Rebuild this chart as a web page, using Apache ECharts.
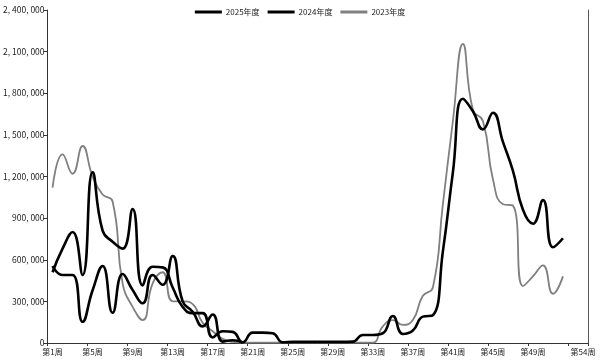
<!DOCTYPE html>
<html>
<head>
<meta charset="utf-8">
<script src="https://cdn.jsdelivr.net/npm/echarts@6/dist/echarts.min.js"></script>
<style>
html,body{margin:0;padding:0;background:#fff;}
#c{width:600px;height:360px;}
</style>
</head>
<body>
<div id="c"></div>
<script>
const weeks = Array.from({length: 54}, (_, i) => '第' + (i + 1) + '周');
const seriesNames = ['2025年度', '2024年度', '2023年度'];

const y2025 = [555000, 490000, 490000, 153000, 380000, 555000, 218000, 497000, 382000, 286000,
  490000, 420000, 627000, 300000, 225000, 120000, 205000, 10000, 20000, 3000];

const y2024 = [510000, 680000, 800000, 490000, 1230000, 810000, 730000, 680000, 965000, 415000,
  550000, 545000, 400000, 260000, 215000, 215000, 40000, 85000, 80000, 5000,
  75000, 75000, 70000, 5000, 8000, 8000, 8000, 8000, 8000, 8000,
  10000, 58000, 58000, 70000, 195000, 65000, 90000, 190000, 200000, 660000,
  1230000, 1760000, 1670000, 1540000, 1660000, 1450000, 1240000, 960000, 860000, 1030000,
  690000, 755000, null, null];

const y2023 = [1120000, 1360000, 1220000, 1420000, 1200000, 1070000, 1020000, 430000, 260000, 165000,
  430000, 510000, 300000, 300000, 280000, 145000, 85000, 30000, 8000, 3000,
  3000, 3000, 3000, 3000, 3000, 3000, 3000, 3000, 3000, 3000,
  3000, 3000, 3000, 120000, 165000, 130000, 165000, 340000, 400000, 1000000,
  1600000, 2155000, 1680000, 1600000, 1180000, 1000000, 990000, 410000, 480000, 560000,
  355000, 480000, null, null];

const yMax = 2400000;
const yStep = 300000;

const chart = echarts.init(document.getElementById('c'), null, {renderer: 'canvas'});
const fontFam = '"Noto Sans CJK SC", "DejaVu Sans", sans-serif';
const axisColor = '#333';

chart.setOption({
  backgroundColor: '#fff',
  animation: false,
  textStyle: {fontFamily: fontFam},
  legend: {
    top: 3,
    left: 'center',
    icon: 'rect',
    itemWidth: 27,
    itemHeight: 3,
    itemGap: 8,
    textStyle: {fontSize: 8, color: '#222', fontFamily: fontFam, padding: [0, 0, 0, -1]},
    data: seriesNames
  },
  grid: {left: 44, right: 12, top: 10, bottom: 17, containLabel: false},
  xAxis: {
    type: 'category',
    data: weeks,
    boundaryGap: true,
    axisLine: {lineStyle: {color: axisColor, width: 1}},
    axisTick: {show: true, interval: 3, length: 3, lineStyle: {color: axisColor}},
    axisLabel: {
      interval: (idx) => idx % 4 === 0 && idx < 50 || idx === 53,
      fontSize: 8,
      color: '#222',
      margin: 5,
      fontFamily: fontFam
    },
    splitLine: {show: false}
  },
  yAxis: [{
    type: 'value',
    min: 0,
    max: yMax,
    interval: yStep,
    axisLine: {show: true, lineStyle: {color: axisColor, width: 1}},
    axisTick: {show: true, length: 4, lineStyle: {color: axisColor}},
    axisLabel: {
      fontSize: 8.5,
      color: '#222',
      margin: 3,
      fontFamily: fontFam,
      formatter: (v) => v.toLocaleString('en-US').replace(/,/g, ', ')
    },
    splitLine: {show: false}
  }, {
    type: 'value',
    position: 'right',
    min: 0,
    max: yMax,
    interval: yStep,
    axisLine: {show: true, lineStyle: {color: '#555', width: 1}},
    axisTick: {show: false},
    axisLabel: {show: false},
    splitLine: {show: false}
  }],
  series: [{
    name: seriesNames[0],
    type: 'line',
    data: y2025,
    smooth: 0.5,
    symbol: 'none',
    lineStyle: {color: '#000', width: 2.6},
    itemStyle: {color: '#000'},
    z: 4
  }, {
    name: seriesNames[1],
    type: 'line',
    data: y2024,
    smooth: 0.5,
    symbol: 'none',
    lineStyle: {color: '#000', width: 2.6},
    itemStyle: {color: '#000'},
    z: 3
  }, {
    name: seriesNames[2],
    type: 'line',
    data: y2023,
    smooth: 0.5,
    symbol: 'none',
    lineStyle: {color: '#808080', width: 1.8},
    itemStyle: {color: '#808080'},
    z: 2
  }]
});
</script>
</body>
</html>
